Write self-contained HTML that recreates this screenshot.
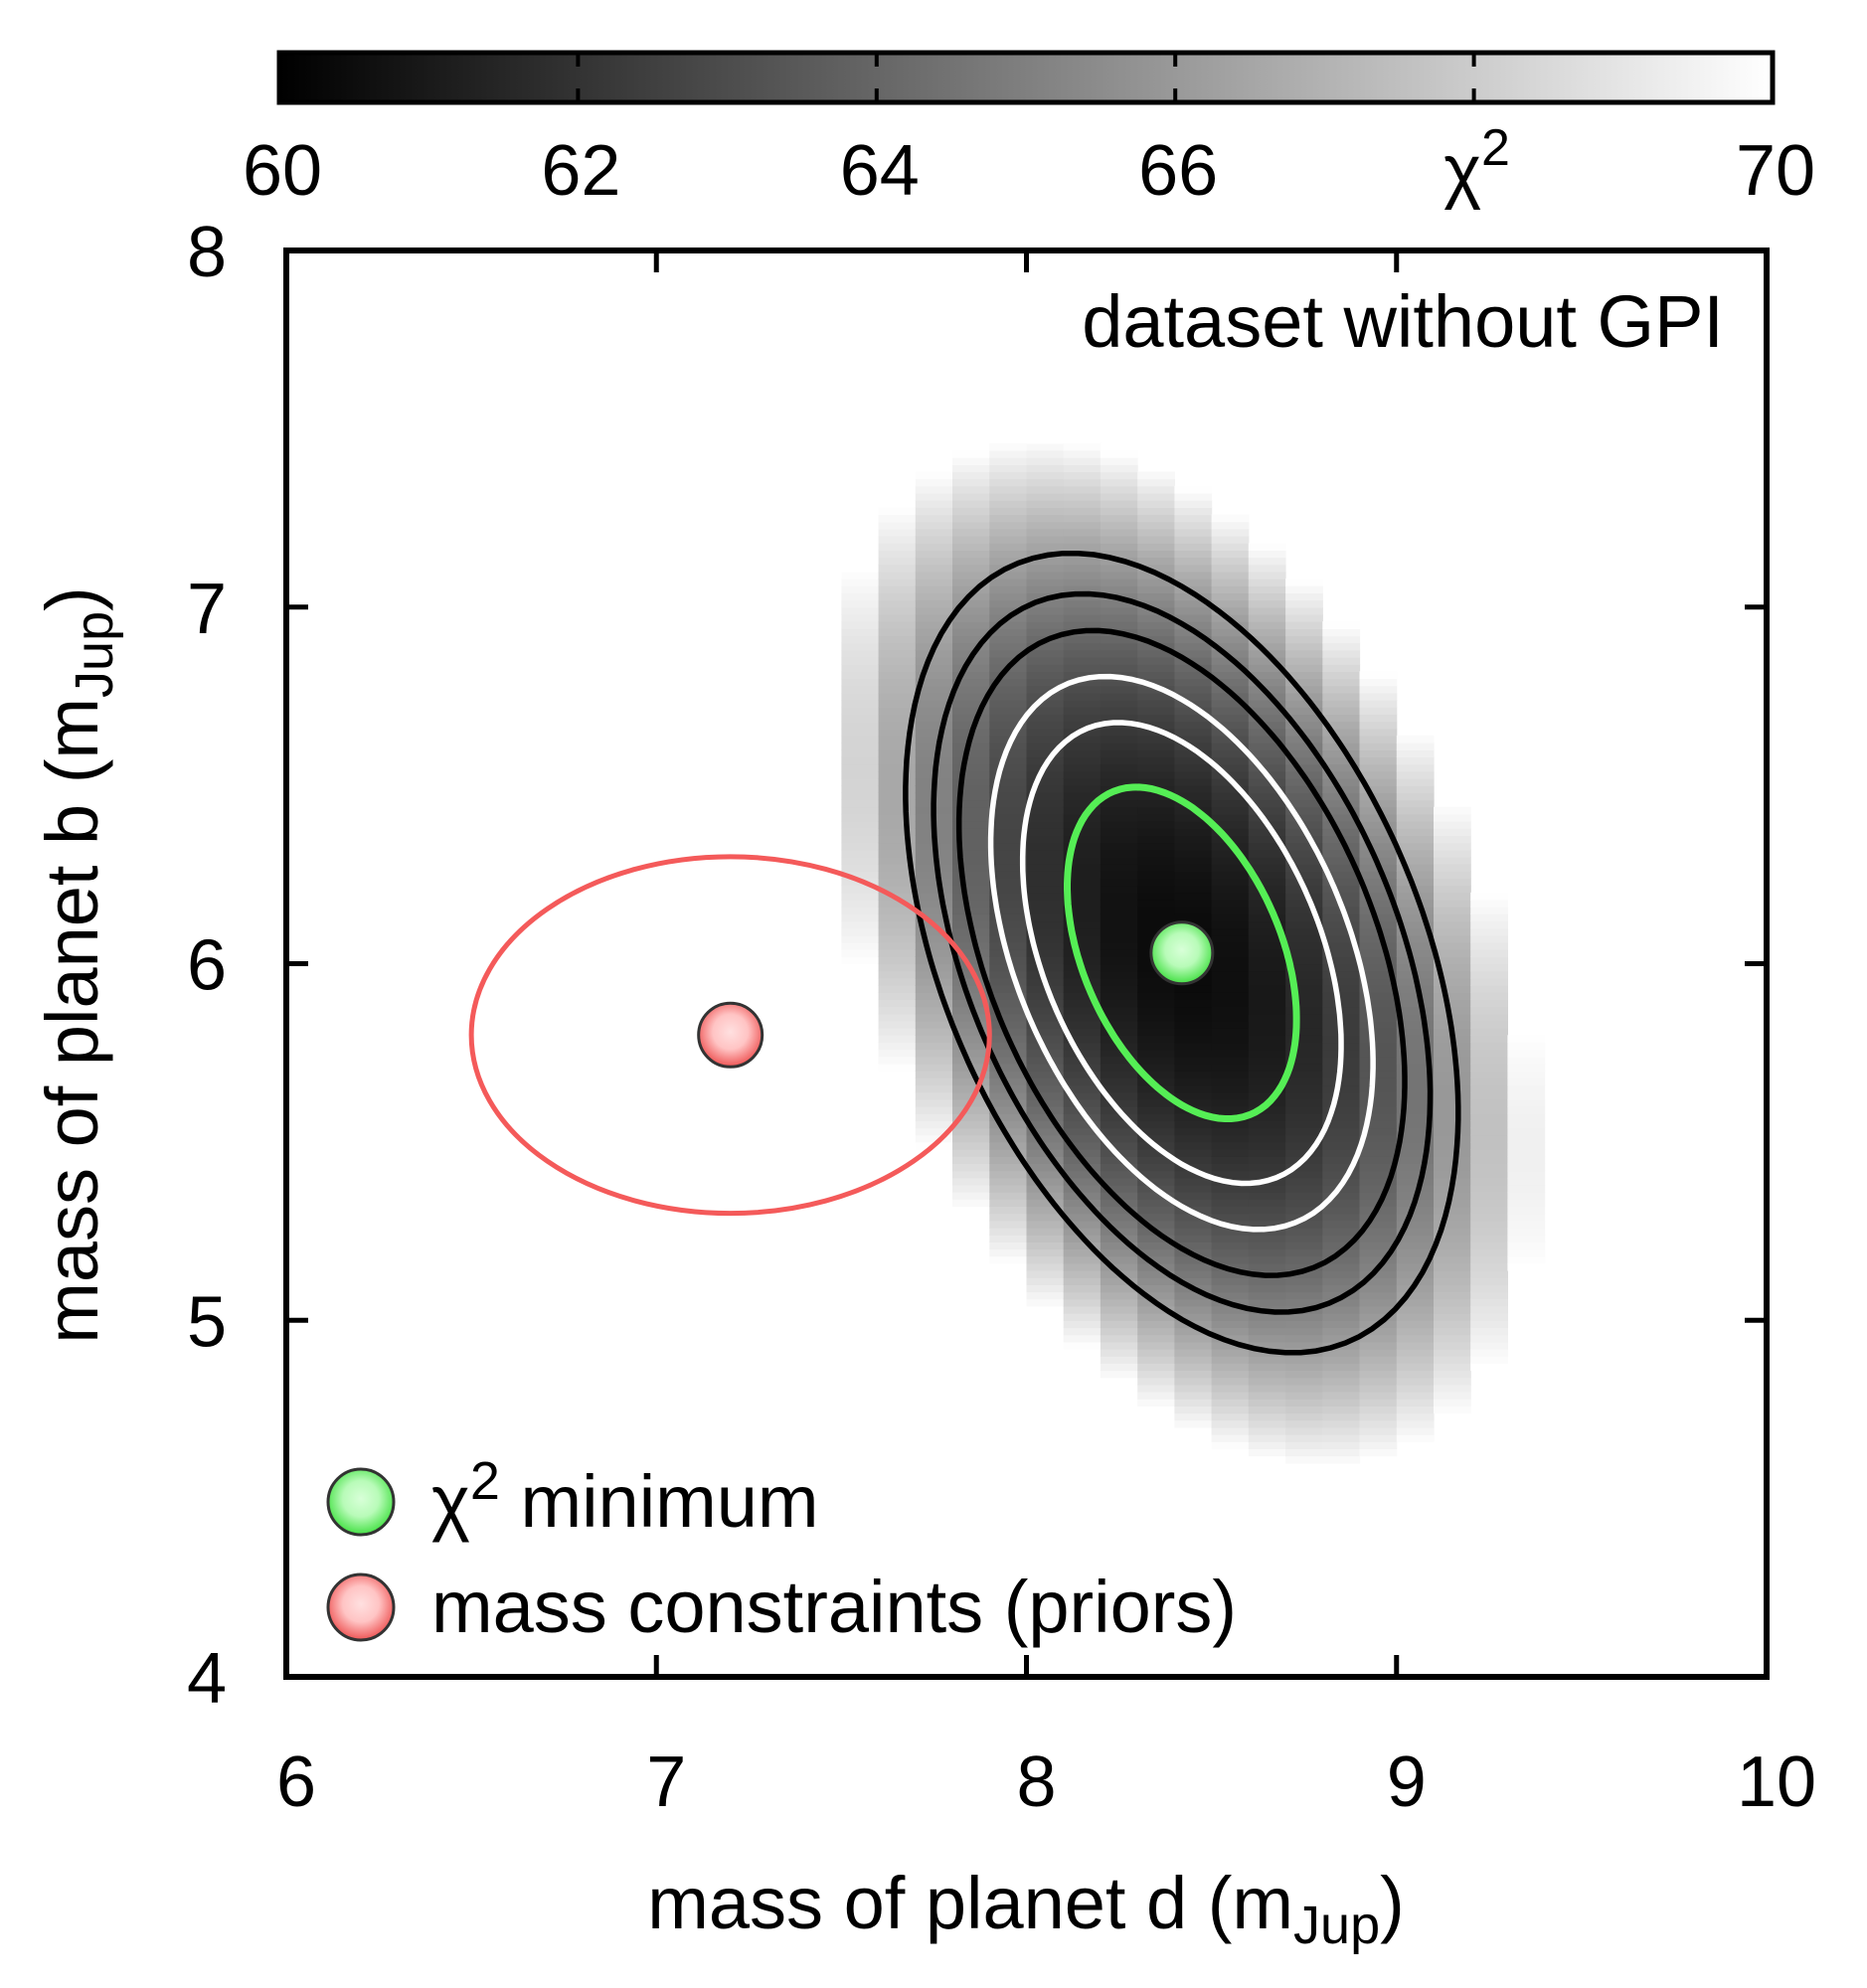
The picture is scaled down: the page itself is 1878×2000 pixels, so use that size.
<!DOCTYPE html>
<html><head><meta charset="utf-8"><style>
html,body{margin:0;padding:0;background:#fff}
svg{display:block}
text{font-family:"Liberation Sans",sans-serif;fill:#000}
</style></head><body>
<svg id="chart" width="1878" height="2000" viewBox="0 0 1878 2000" xmlns="http://www.w3.org/2000/svg">
<defs>
<radialGradient id="gGreen" cx="0.5" cy="0.45" r="0.55"><stop offset="0" stop-color="#d8ffd8"/><stop offset="0.5" stop-color="#b8fbb8"/><stop offset="1" stop-color="#44e044"/></radialGradient>
<radialGradient id="gRed" cx="0.5" cy="0.45" r="0.55"><stop offset="0" stop-color="#ffe0e0"/><stop offset="0.5" stop-color="#ffc4c4"/><stop offset="1" stop-color="#ee5555"/></radialGradient>
<linearGradient id="cbGrad" x1="0" x2="1" y1="0" y2="0"><stop offset="0" stop-color="#000"/><stop offset="1" stop-color="#fff"/></linearGradient>
<clipPath id="plotClip"><rect x="288" y="252" width="1489" height="1435"/></clipPath>
</defs>
<g id="heat" clip-path="url(#plotClip)"></g>
<g id="contours" clip-path="url(#plotClip)"></g>
<g id="marks"></g>
<rect x="288" y="252" width="1489" height="1435" fill="none" stroke="#000" stroke-width="6"/>
<g id="axes"></g>
<g id="cbar"></g>
<text x="1734" y="349" font-size="74" text-anchor="end">dataset without GPI</text>
<text x="1032" y="1940" font-size="74" text-anchor="middle">mass of planet d (m<tspan font-size="54" dy="15">Jup</tspan><tspan dy="-15">)</tspan></text>
<text transform="translate(98,971) rotate(-90)" font-size="74" text-anchor="middle">mass of planet b (m<tspan font-size="54" dy="15">Jup</tspan><tspan dy="-15">)</tspan></text>
<g>
<circle cx="363" cy="1511" r="33" fill="url(#gGreen)" stroke="#333" stroke-width="3"/>
<text x="434" y="1536" font-size="74">χ<tspan font-size="54" dy="-28">2</tspan><tspan dy="28"> minimum</tspan></text>
<circle cx="363" cy="1617" r="33" fill="url(#gRed)" stroke="#333" stroke-width="3"/>
<text x="434" y="1642" font-size="74">mass constraints (priors)</text>
</g>
</svg>
<script>
const xTicks = [6, 7, 8, 9, 10];
const yTicks = [4, 5, 6, 7, 8];
const cbTicks = [60, 62, 64, 66, 68, 70];
const cbLabels = ["60", "62", "64", "66", "χ²", "70"];
const chiMin = [60.4];
const bestFit = [8.42, 6.03];
const quadCoef = [12.4, 3.3, 5.5];
const contourLevels = [1.0, 1.93, 2.78, 3.78, 4.69, 5.81];
const contourColors = ["#55ee55", "#fff", "#fff", "#000", "#000", "#000"];
const priorCenter = [7.2, 5.8];
const priorRadii = [0.7, 0.5];

const NS = "http://www.w3.org/2000/svg";
const X0 = 288, X1 = 1777, Y0 = 1687, Y1 = 252;
const sx = v => X0 + (v - 6) / 4 * (X1 - X0);
const sy = v => Y0 - (v - 4) / 4 * (Y0 - Y1);
function mk(tag, attrs, parent) {
  const e = document.createElementNS(NS, tag);
  for (const k in attrs) e.setAttribute(k, attrs[k]);
  parent.appendChild(e);
  return e;
}
function dchi(x, y) {
  const dx = x - bestFit[0], dy = y - bestFit[1];
  return quadCoef[0] * dx * dx + 2 * quadCoef[1] * dx * dy + quadCoef[2] * dy * dy;
}
function gray(v) {
  const t = Math.max(0, Math.min(1, (v - 60) / 10));
  const g = Math.round(t * 255);
  return "rgb(" + g + "," + g + "," + g + ")";
}
// heatmap
const heat = document.getElementById('heat');
const cw = 0.1, ch = 0.02;
for (let i = 0; i < 40; i++) {
  const x = 6 + i * cw;
  for (let j = 0; j < 200; j++) {
    const y = 4 + j * ch;
    const v = chiMin[0] + dchi(x + cw / 2, y + ch / 2);
    if (v >= 70) continue;
    const r = mk('rect', {x: sx(x).toFixed(1), y: sy(y + ch).toFixed(1), width: (sx(x + cw) - sx(x) + 0.6).toFixed(1), height: (sy(y) - sy(y + ch) + 0.6).toFixed(1), fill: gray(v)}, heat);
    
    
  }
}
// contours
const cg = document.getElementById('contours');
contourLevels.forEach((L, i) => {
  let d = "";
  for (let k = 0; k <= 180; k++) {
    const t = k / 180 * 2 * Math.PI, c = Math.cos(t), s = Math.sin(t);
    const q = quadCoef[0] * c * c + 2 * quadCoef[1] * c * s + quadCoef[2] * s * s;
    const r = Math.sqrt(L / q);
    const px = sx(bestFit[0] + r * c), py = sy(bestFit[1] + r * s);
    d += (k ? "L" : "M") + px.toFixed(1) + "," + py.toFixed(1);
  }
  const p = mk('path', {d: d + "Z", fill: "none", stroke: contourColors[i], "stroke-width": i === 0 ? 7 : 5.5}, cg);
  
  
});
// markers
const mg = document.getElementById('marks');
const pe = mk('ellipse', {cx: sx(priorCenter[0]), cy: sy(priorCenter[1]), rx: sx(priorCenter[0] + priorRadii[0]) - sx(priorCenter[0]), ry: sy(priorCenter[1]) - sy(priorCenter[1] + priorRadii[1]), fill: "none", stroke: "#f45a5a", "stroke-width": 5}, mg);


const pm = mk('circle', {cx: sx(priorCenter[0]), cy: sy(priorCenter[1]), r: 32, fill: "url(#gRed)", stroke: "#333", "stroke-width": 3}, mg);


const gm = mk('circle', {cx: sx(bestFit[0]), cy: sy(bestFit[1]), r: 31, fill: "url(#gGreen)", stroke: "#333", "stroke-width": 3}, mg);


// axes
const ag = document.getElementById('axes');
const TL = 22;
xTicks.forEach(v => {
  const x = sx(v);
  if (v > 6 && v < 10) {
    mk('line', {x1: x, x2: x, y1: Y0, y2: Y0 - TL, stroke: "#000", "stroke-width": 5}, ag);
    mk('line', {x1: x, x2: x, y1: Y1, y2: Y1 + TL, stroke: "#000", "stroke-width": 5}, ag);
  }
  const t = mk('text', {x: x + 10, y: 1817, "font-size": 72, "text-anchor": "middle"}, ag);
  t.textContent = String(v);
  
  
});
yTicks.forEach(v => {
  const y = sy(v);
  if (v > 4 && v < 8) {
    mk('line', {x1: X0, x2: X0 + TL, y1: y, y2: y, stroke: "#000", "stroke-width": 5}, ag);
    mk('line', {x1: X1, x2: X1 - TL, y1: y, y2: y, stroke: "#000", "stroke-width": 5}, ag);
  }
  const t = mk('text', {x: 228, y: y + 26, "font-size": 72, "text-anchor": "end"}, ag);
  t.textContent = String(v);
  
  
});
// colorbar
const cb = document.getElementById('cbar');
const CX0 = 281, CX1 = 1783, CY0 = 53, CY1 = 103;
const cbx = v => CX0 + (v - 60) / 10 * (CX1 - CX0);
const cr = mk('rect', {x: CX0, y: CY0, width: CX1 - CX0, height: CY1 - CY0, fill: "url(#cbGrad)", stroke: "#000", "stroke-width": 5}, cb);


cbTicks.forEach((v, i) => {
  const x = cbx(v);
  if (v > 60 && v < 70) {
    mk('line', {x1: x, x2: x, y1: CY0, y2: CY0 + 14, stroke: "#000", "stroke-width": 4}, cb);
    mk('line', {x1: x, x2: x, y1: CY1, y2: CY1 - 14, stroke: "#000", "stroke-width": 4}, cb);
  }
  const t = mk('text', {x: x + 3, y: 196, "font-size": 72, "text-anchor": "middle"}, cb);
  if (cbLabels[i] === "χ²") {
    t.textContent = "χ";
    const ts = mk('tspan', {"font-size": 52, dy: -30}, t);
    ts.textContent = "2";
  } else {
    t.textContent = cbLabels[i];
  }
  
  
});
</script>
</body></html>
